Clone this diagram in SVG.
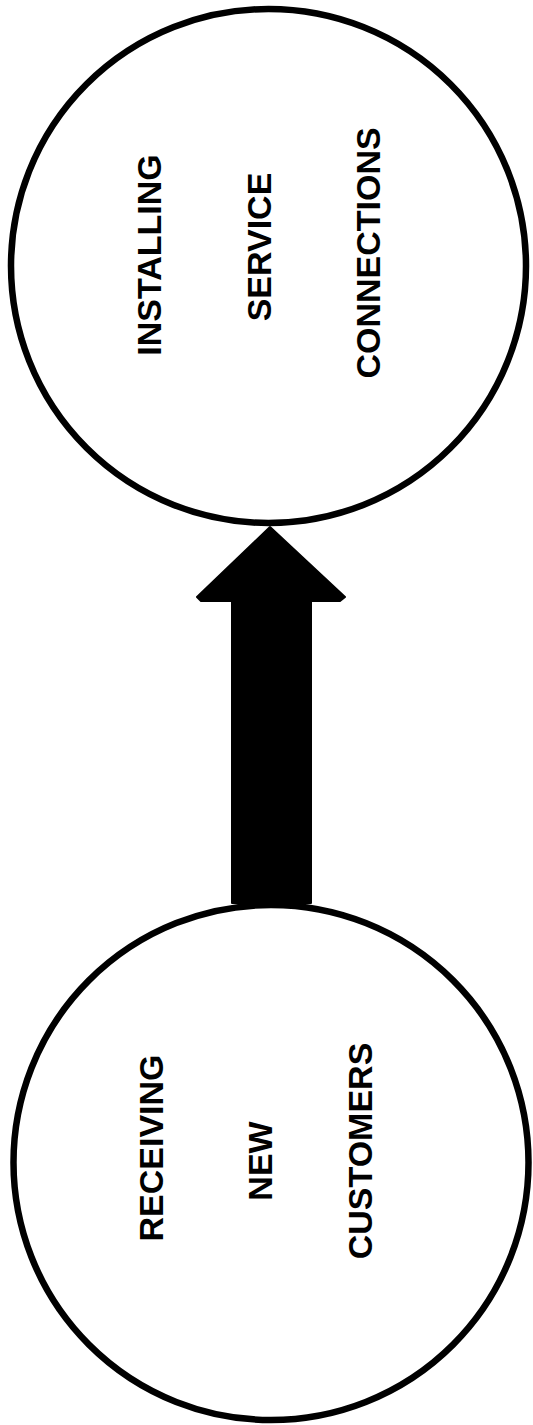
<svg xmlns="http://www.w3.org/2000/svg" width="533" height="1425" viewBox="0 0 533 1425">
<style>
.node{fill:#fff;stroke:#000;stroke-width:6.5}
.lbl{font-family:"Liberation Sans",Arial,sans-serif;font-weight:bold;font-size:34px;fill:#000;text-anchor:middle}
.arrow{fill:#000;stroke:#000;stroke-width:2;stroke-linejoin:round}
</style>
<rect width="533" height="1425" fill="#fff"/>
<g id="node-installing">
<ellipse class="node" cx="268.5" cy="266" rx="257.5" ry="257"/>
<text class="lbl" transform="translate(149,255) rotate(-90)" x="0" y="12">INSTALLING</text>
<text class="lbl" transform="translate(259,247) rotate(-90)" x="0" y="12">SERVICE</text>
<text class="lbl" transform="translate(368,253) rotate(-90)" x="0" y="12">CONNECTIONS</text>
</g>
<g id="node-receiving">
<ellipse class="node" cx="271" cy="1162.5" rx="257.5" ry="257.5"/>
<text class="lbl" transform="translate(151,1148) rotate(-90)" x="0" y="12">RECEIVING</text>
<text class="lbl" transform="translate(260,1161) rotate(-90)" x="0" y="12">NEW</text>
<text class="lbl" transform="translate(360,1151) rotate(-90)" x="0" y="12">CUSTOMERS</text>
</g>
<g id="connectors">
<polygon class="arrow" points="270,527 345,597 340,601 311,601 311,903 232,903 232,601 201,601 197,597"/>
</g>
</svg>
